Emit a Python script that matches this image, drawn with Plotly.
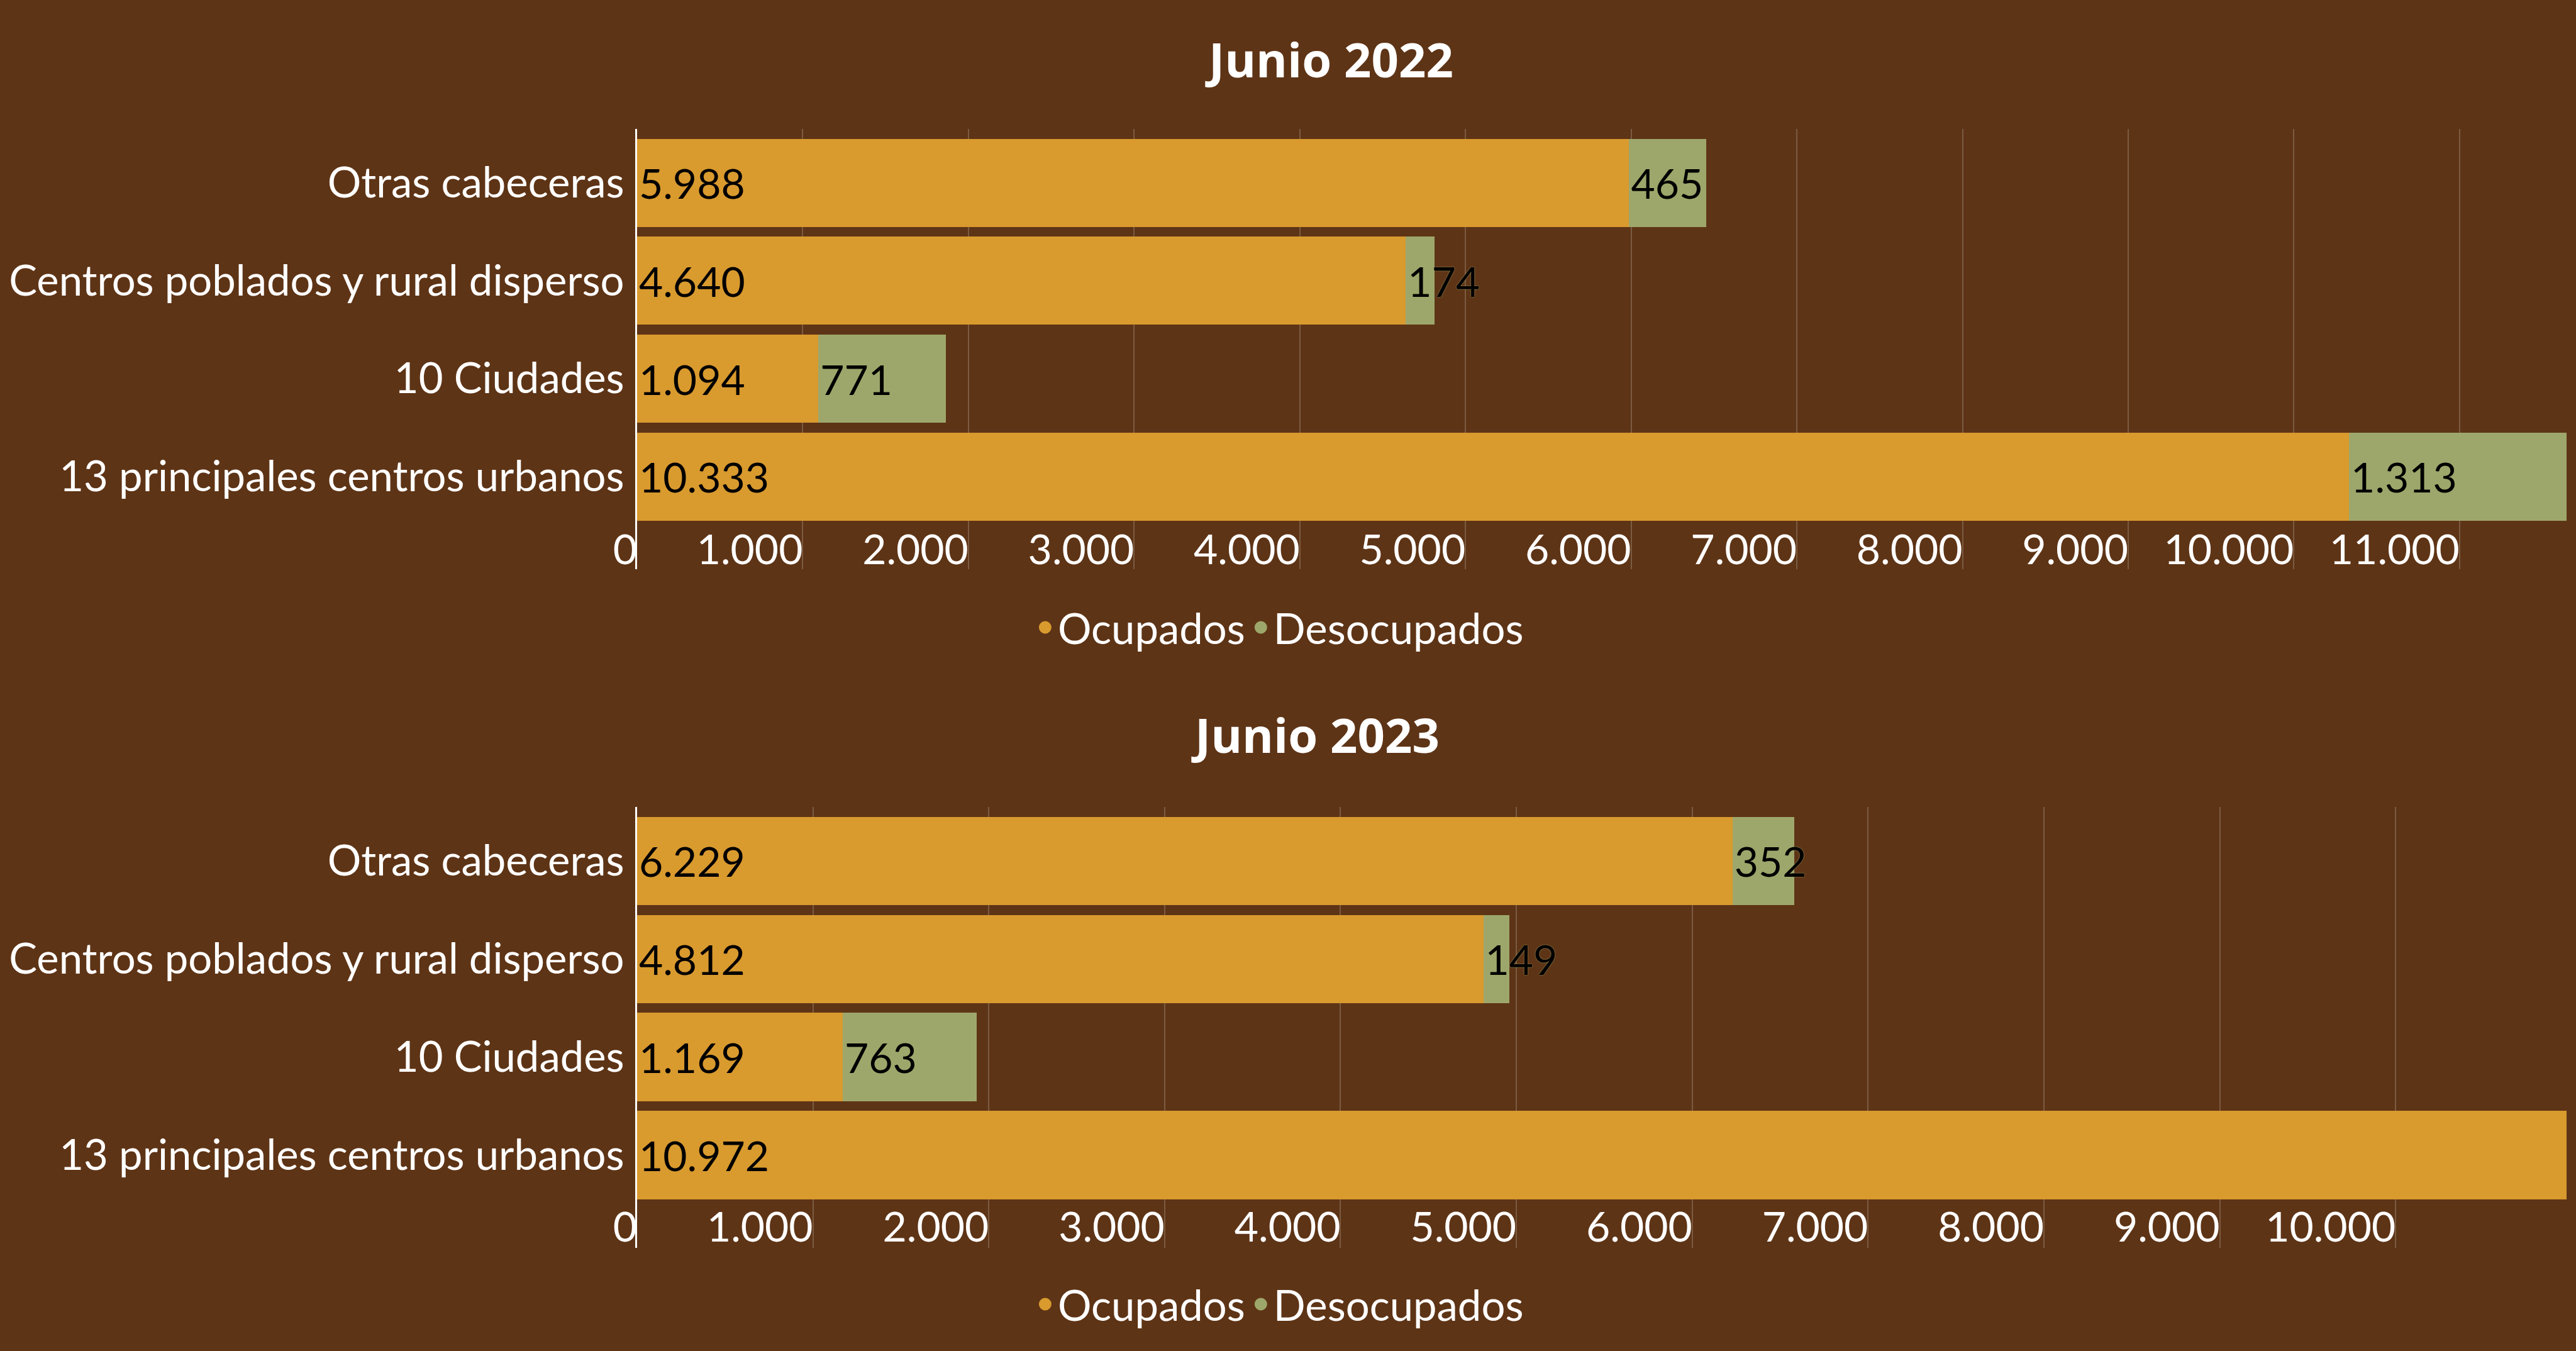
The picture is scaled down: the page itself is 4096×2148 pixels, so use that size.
import plotly.graph_objects as go

# ---- data ----
categories = ["Otras cabeceras", "Centros poblados y rural disperso",
              "10 Ciudades", "13 principales centros urbanos"]
ocupados_2022 = [5988, 4640, 1094, 10333]
desocupados_2022 = [465, 174, 771, 1313]
ocupados_2023 = [6229, 4812, 1169, 10972]
desocupados_2023 = [352, 149, 763, None]
titles = ["Junio 2022", "Junio 2023"]
series_names = ["Ocupados", "Desocupados"]

# ---- style ----
BG = "#5E3416"
ORANGE = "#D99A2E"
GREEN = "#9EA76B"
GRID = "#7B5B41"
FONT = "Lato"
FS = 66
FS_CAT = 67
W, H = 4096, 2148

fig = go.Figure()

panels = [
    (ocupados_2022, desocupados_2022, "x", "y", "legend"),
    (ocupados_2023, desocupados_2023, "x2", "y2", "legend2"),
]

for occ, des, xa, ya, lg in panels:
    for vals, color, name in [(occ, ORANGE, series_names[0]), (des, GREEN, series_names[1])]:
        fig.add_trace(go.Bar(
            y=categories, x=vals, orientation="h", name=name,
            marker=dict(color=color, line=dict(width=0)),
            texttemplate="%{x:,d}", textposition="inside",
            insidetextanchor="start", textangle=0, constraintext="none",
            textfont=dict(color="black", size=FS, family=FONT,
                          shadow="0px 0px 2px " + GREEN if color == GREEN else "none"),
            showlegend=False, hoverinfo="x+y",
            xaxis=xa, yaxis=ya,
        ))
    # legend entries (circle symbols)
    for color, name in [(ORANGE, series_names[0]), (GREEN, series_names[1])]:
        fig.add_trace(go.Scatter(
            x=[None], y=[None], mode="markers", name=name,
            marker=dict(color=color, size=16, symbol="circle",
                        line=dict(color=color, width=4)),
            legend=lg, xaxis=xa, yaxis=ya, showlegend=True,
        ))

def py(px):
    return 1 - px / H

xdom = [1013 / W, 4081 / W]

common_x = dict(
    domain=xdom, dtick=1000, tick0=0, showgrid=True, gridcolor=GRID,
    gridwidth=2, zeroline=False, showline=False, ticks="",
    ticklabelposition="outside left", tickformat=",d", automargin=False,
    tickfont=dict(color="white", size=FS, family=FONT), anchor="free",
)
common_y = dict(
    type="category", categoryorder="array", categoryarray=categories,
    range=[3.947, -0.551], showline=True, linecolor="white", linewidth=3,
    showgrid=False, zeroline=False, ticks="", ticklabelstandoff=4,
    automargin=False,
    tickfont=dict(color="white", size=FS_CAT, family=FONT),
)

tot1 = max(o + (d or 0) for o, d in zip(ocupados_2022, desocupados_2022))
tot2 = max(o + (d or 0) for o, d in zip(ocupados_2023, desocupados_2023))

legend_common = dict(orientation="h", x=0.4968, xanchor="center",
                     yanchor="middle", bgcolor="rgba(0,0,0,0)",
                     traceorder="normal",
                     font=dict(color="white", size=FS_CAT, family=FONT))

fig.update_layout(
    width=W, height=H, autosize=False,
    margin=dict(l=0, r=0, t=0, b=0, pad=0),
    paper_bgcolor=BG, plot_bgcolor=BG,
    separators=",.",
    barmode="stack", bargap=0.1,
    font=dict(family=FONT, color="white", size=FS),
    xaxis=dict(common_x, range=[0, tot1], position=py(830)),
    yaxis=dict(common_y, domain=[py(905), py(205)], anchor="x"),
    xaxis2=dict(common_x, range=[0, tot2], position=py(1907)),
    yaxis2=dict(common_y, domain=[py(1984), py(1283)], anchor="x2"),
    legend=dict(legend_common, y=py(998)),
    legend2=dict(legend_common, y=py(2074)),
    annotations=[
        dict(text="<b>" + titles[0] + "</b>", x=0.5161, y=py(93), xref="paper",
             yref="paper", showarrow=False, xanchor="center", yanchor="middle",
             font=dict(family="Open Sans", size=76, color="white")),
        dict(text="<b>" + titles[1] + "</b>", x=0.5106, y=py(1167), xref="paper",
             yref="paper", showarrow=False, xanchor="center", yanchor="middle",
             font=dict(family="Open Sans", size=76, color="white")),
    ],
)

fig.write_html("out.html", config={"displayModeBar": False},
               post_script="document.body.style.margin='0';document.body.style.overflow='hidden';")
